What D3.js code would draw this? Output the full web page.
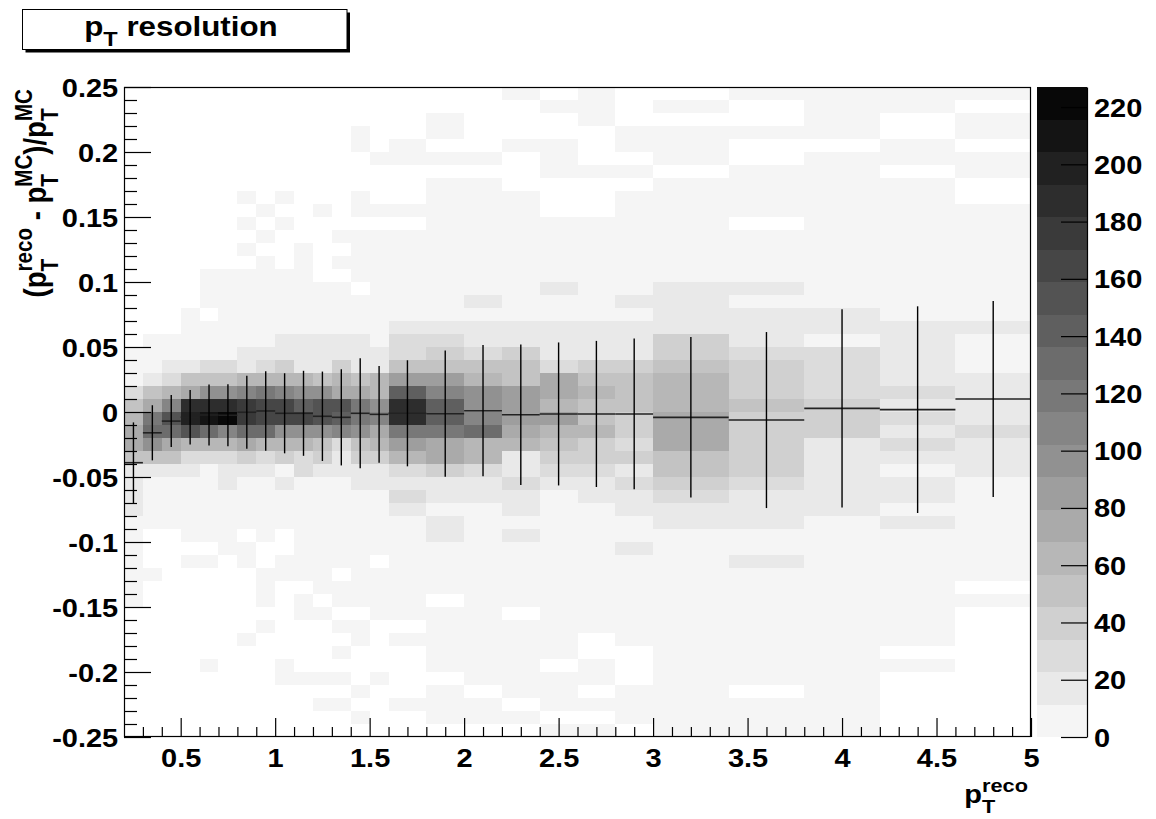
<!DOCTYPE html>
<html><head><meta charset="utf-8">
<script src="https://cdnjs.cloudflare.com/ajax/libs/d3/7.8.5/d3.min.js"></script>
<style>
body{margin:0;background:#fff}
svg text{font-family:"Liberation Sans",Arial,Helvetica,sans-serif;font-weight:bold;fill:#000}
</style></head><body>
<svg id="c" width="1156" height="819"></svg>
<script>
// ---- data ----
const xEdges = [0.2,0.3,0.4,0.5,0.6,0.7,0.8,0.9,1.0,1.1,1.2,1.3,1.4,1.5,1.6,1.8,2.0,2.2,2.4,2.6,2.8,3.0,3.4,3.8,4.2,4.6,5.0];
const yEdges = [-0.25,-0.24,-0.23,-0.22,-0.21,-0.2,-0.19,-0.18,-0.17,-0.16,-0.15,-0.14,-0.13,-0.12,-0.11,-0.1,-0.09,-0.08,-0.07,-0.06,-0.05,-0.04,-0.03,-0.02,-0.01,0,
  0.01,0.02,0.03,0.04,0.05,0.06,0.07,0.08,0.09,0.1,0.11,0.12,0.13,0.14,0.15,0.16,0.17,0.18,0.19,0.2,0.21,0.22,0.23,0.24,0.25];
// bin contents, one row per y bin, from y=-0.25 (first) upward; one entry per x bin
const counts = [
[0,0,0,0,0,0,0,0,0,0,0,0,0,0,0,0,0,0,3,3,0,3,3,3,0,0],
[0,0,0,0,0,0,0,0,0,0,0,0,3,0,0,3,3,3,0,0,3,3,3,3,0,0],
[0,0,0,0,0,0,0,0,0,0,3,3,0,0,3,3,3,0,3,3,3,3,3,3,0,0],
[0,0,0,0,0,0,0,0,0,0,0,0,3,0,0,3,0,3,3,0,3,3,0,3,0,0],
[0,0,0,0,0,0,0,0,3,3,3,3,0,3,0,0,3,3,3,3,0,3,3,3,0,0],
[0,0,0,0,3,0,0,0,3,0,0,0,0,0,0,3,3,3,0,3,0,3,3,3,3,0],
[0,0,0,0,0,0,0,0,0,0,0,3,0,0,0,3,3,3,3,0,0,3,3,3,0,0],
[0,0,0,0,0,0,3,0,0,0,0,0,3,0,3,3,3,3,3,0,3,3,3,3,3,0],
[0,0,0,0,0,0,0,3,0,0,0,3,3,0,0,3,3,3,3,3,3,3,3,3,3,0],
[0,0,0,0,0,0,0,0,0,3,3,0,0,3,3,3,3,0,3,3,3,3,3,3,3,0],
[3,0,0,0,0,0,0,3,0,3,0,3,3,3,3,0,3,3,3,3,3,3,3,3,3,3],
[3,0,0,0,0,0,0,3,0,0,3,3,3,3,3,3,3,3,3,3,3,3,3,3,3,0],
[3,3,0,0,0,0,0,3,3,3,3,0,3,3,3,3,3,3,3,3,3,3,3,3,3,3],
[3,0,0,3,3,0,3,0,3,3,3,3,3,0,3,3,3,3,3,3,3,3,17,3,3,3],
[3,0,0,0,0,3,3,0,0,3,3,3,3,3,3,3,3,3,3,3,17,3,3,3,3,3],
[3,0,0,3,3,3,0,3,0,3,3,3,3,3,3,17,3,17,3,3,3,3,3,3,3,3],
[3,3,3,3,3,3,3,3,3,3,3,3,3,3,3,17,3,3,3,3,3,17,17,3,17,3],
[17,3,3,3,3,3,3,3,3,3,3,3,3,3,17,3,3,17,3,3,17,17,17,17,3,3],
[17,3,3,3,3,3,3,3,3,3,3,3,3,3,28,17,17,17,3,17,17,28,17,17,17,3],
[17,3,3,3,3,17,3,3,17,3,3,3,17,17,17,17,17,28,17,17,28,40,28,17,17,3],
[17,17,17,17,3,17,17,17,3,28,17,17,17,17,28,40,28,17,28,28,17,51,40,17,3,17],
[51,51,51,28,28,28,40,28,40,28,40,17,40,40,62,74,62,17,40,40,40,51,40,17,17,17],
[74,96,74,62,62,62,74,62,62,62,51,28,51,62,85,74,62,62,51,40,28,74,40,17,28,17],
[74,130,130,153,130,108,130,130,96,96,96,108,96,74,119,119,130,74,62,62,40,74,40,40,17,28],
[62,119,153,198,210,227,176,164,164,164,153,142,119,108,187,142,108,85,85,51,40,74,40,40,28,17],
[51,74,108,187,187,187,176,164,164,142,153,153,119,96,187,142,96,85,62,51,51,62,51,40,17,17],
[28,51,62,74,96,96,108,119,108,96,96,74,74,62,142,108,96,85,74,62,51,62,40,28,28,17],
[3,17,28,51,51,51,62,62,62,62,51,62,51,62,85,85,62,51,74,51,51,62,40,28,17,17],
[3,3,17,17,28,28,17,28,40,17,17,40,17,17,51,51,51,51,28,40,40,51,40,28,17,3],
[3,3,3,3,3,3,17,17,17,17,17,17,17,17,28,40,28,40,17,17,17,40,28,28,17,3],
[0,3,3,3,3,3,3,3,17,17,17,17,17,3,28,28,17,17,17,17,17,40,17,3,17,3],
[0,0,0,3,3,3,3,3,3,3,3,3,3,3,17,17,17,17,17,17,17,17,17,17,17,17],
[0,0,0,3,0,3,3,3,3,3,3,3,3,3,3,3,3,3,3,3,3,17,17,17,3,3],
[0,0,0,0,3,3,3,3,3,3,3,3,3,3,3,3,17,3,3,3,17,17,3,3,3,3],
[0,0,0,0,3,3,3,3,3,3,3,3,0,3,3,3,3,3,17,3,3,17,17,3,3,3],
[0,0,0,0,3,3,3,3,3,3,0,0,3,3,3,3,3,3,3,3,3,3,3,3,3,3],
[0,0,0,0,0,0,0,3,0,3,0,3,3,3,3,3,3,3,3,3,3,3,3,3,3,3],
[0,0,0,0,0,0,3,0,0,3,0,0,3,3,3,3,3,3,3,3,3,3,3,3,3,3],
[0,0,0,0,0,0,0,3,0,0,0,3,3,3,3,3,3,3,3,3,3,3,3,3,3,3],
[0,0,0,0,0,0,3,0,3,0,0,0,0,0,0,3,3,3,3,3,3,3,0,3,3,3],
[0,0,0,0,0,0,0,3,0,0,3,0,3,3,3,3,3,3,0,0,3,3,3,3,3,3],
[0,0,0,0,0,0,3,0,3,0,0,0,3,0,0,3,3,3,0,0,3,3,3,3,3,0],
[0,0,0,0,0,0,0,0,0,0,0,0,0,0,0,3,3,0,0,0,0,3,3,3,3,0],
[0,0,0,0,0,0,0,0,0,0,0,0,0,0,0,0,0,0,3,3,3,0,3,3,0,3],
[0,0,0,0,0,0,0,0,0,0,0,0,0,3,3,3,3,0,3,0,0,3,0,3,3,3],
[0,0,0,0,0,0,0,0,0,0,0,0,3,0,3,0,0,3,3,0,3,3,0,0,3,0],
[0,0,0,0,0,0,0,0,0,0,0,0,3,0,0,3,0,0,0,0,3,3,3,3,0,3],
[0,0,0,0,0,0,0,0,0,0,0,0,0,0,0,3,0,0,0,3,0,0,0,3,0,3],
[0,0,0,0,0,0,0,0,0,0,0,0,0,0,0,0,0,0,3,3,0,3,0,3,3,0],
[0,0,0,0,0,0,0,0,0,0,0,0,0,0,0,0,0,3,0,3,0,0,3,3,3,3]
];
// profile (mean and spread) per x bin
const profMean = [-0.039,-0.016,-0.007,-0.004,-0.0023,-0.0025,-0.0002,0.0008,-0.001,-0.001,-0.0033,-0.0041,-0.001,-0.0018,-0.001,-0.0013,0.001,-0.0021,-0.0015,-0.0015,-0.0015,-0.0041,-0.0062,0.0028,0.0018,0.0100];
const profSpread = [0.031,0.0212,0.020,0.021,0.0235,0.0238,0.028,0.0306,0.0308,0.0327,0.0344,0.037,0.0423,0.0372,0.0408,0.0486,0.0505,0.054,0.055,0.0562,0.058,0.0617,0.0677,0.0762,0.0795,0.0754];
const xTickValues = [0.5,1,1.5,2,2.5,3,3.5,4,4.5,5];
const xTickLabels = ["0.5","1","1.5","2","2.5","3","3.5","4","4.5","5"];
const xMinorTicks = [0.3,0.4,0.6,0.7,0.8,0.9,1.1,1.2,1.3,1.4,1.6,1.7,1.8,1.9,2.1,2.2,2.3,2.4,2.6,2.7,2.8,2.9,3.1,3.2,3.3,3.4,3.6,3.7,3.8,3.9,4.1,4.2,4.3,4.4,4.6,4.7,4.8,4.9];
const yTickValues = [-0.25,-0.2,-0.15,-0.1,-0.05,0,0.05,0.1,0.15,0.2,0.25];
const yTickLabels = ["-0.25","-0.2","-0.15","-0.1","-0.05","0","0.05","0.1","0.15","0.2","0.25"];
const zTickValues = [0,20,40,60,80,100,120,140,160,180,200,220];
const palette = ["#f5f5f5","#e9e9e9","#dcdcdc","#d0d0d0","#c3c3c3","#b7b7b7","#aaaaaa","#9e9e9e","#919191","#858585",
                 "#787878","#6c6c6c","#5f5f5f","#535353","#464646","#3a3a3a","#2d2d2d","#212121","#141414","#080808"];

// ---- layout ----
const SX = 1.16;              // horizontal stretch of the glyphs
const L = 124, R = 1031, T = 87, B = 737;
const CBL = 1037, CBR = 1087;
const svg = d3.select("#c");

const x = d3.scaleLinear().domain([0.2, 5]).range([L, R]);
const y = d3.scaleLinear().domain([-0.25, 0.25]).range([B, T]);
const zMax = d3.max(counts.flat());
const color = d3.scaleQuantize().domain([0, zMax]).range(palette);
const z = d3.scaleLinear().domain([0, zMax]).range([B, T]);

// cells
const cells = [];
counts.forEach((row, r) => row.forEach((v, c) => { if (v > 0) cells.push({r, c, v}); }));
svg.append("g").attr("shape-rendering", "crispEdges")
  .selectAll("rect").data(cells).join("rect")
  .attr("x", d => x(xEdges[d.c]))
  .attr("width", d => x(xEdges[d.c + 1]) - x(xEdges[d.c]))
  .attr("y", d => y(yEdges[d.r + 1]))
  .attr("height", d => y(yEdges[d.r]) - y(yEdges[d.r + 1]))
  .attr("fill", d => color(d.v));

// profile
const prof = svg.append("g").attr("stroke", "#000");
profMean.forEach((m, i) => {
  prof.append("line").attr("x1", x(xEdges[i])).attr("x2", x(xEdges[i + 1]))
    .attr("y1", y(m)).attr("y2", y(m)).attr("stroke-width", 1.6).attr("stroke", "#222");
  const cx = (x(xEdges[i]) + x(xEdges[i + 1])) / 2;
  prof.append("line").attr("x1", cx).attr("x2", cx)
    .attr("y1", y(m - profSpread[i])).attr("y2", y(m + profSpread[i])).attr("stroke-width", 1.4);
});

// frame
svg.append("rect").attr("x", L + 0.5).attr("y", T + 0.5).attr("width", R - L - 1).attr("height", B - T - 1)
  .attr("fill", "none").attr("stroke", "#000").attr("stroke-width", 1.2);

function stretchText(sel) {
  sel.selectAll("text").attr("transform", `scale(${SX},1)`);
}

// y axis
const yMinor = yEdges.filter(v => !yTickValues.some(t => Math.abs(t - v) < 1e-9));
svg.append("g").attr("transform", `translate(${L},0)`)
  .call(d3.axisLeft(y).tickValues(yMinor).tickSize(-13).tickSizeOuter(0).tickFormat(""))
  .call(g => g.select(".domain").remove());
const yAx = svg.append("g").attr("transform", `translate(${L},0)`)
  .call(d3.axisLeft(y).tickValues(yTickValues).tickSize(-27).tickSizeOuter(0).tickPadding(5)
    .tickFormat((d, i) => yTickLabels[i]))
  .call(g => g.select(".domain").remove());
yAx.selectAll("text").style("font-size", "25px").style("font-family", null).attr("dy", "0.36em");
stretchText(yAx);

// x axis
svg.append("g").attr("transform", `translate(0,${B})`)
  .call(d3.axisBottom(x).tickValues(xMinorTicks).tickSize(-10).tickSizeOuter(0).tickFormat(""))
  .call(g => g.select(".domain").remove());
const xAx = svg.append("g").attr("transform", `translate(0,${B})`)
  .call(d3.axisBottom(x).tickValues(xTickValues).tickSize(-19).tickSizeOuter(0).tickPadding(12)
    .tickFormat((d, i) => xTickLabels[i]))
  .call(g => g.select(".domain").remove());
xAx.selectAll("text").style("font-size", "25px").style("font-family", null);
stretchText(xAx);
svg.selectAll(".tick line").attr("stroke", "#000").attr("stroke-width", 1.2);

// colour bar
const levels = d3.range(palette.length);
svg.append("g").attr("shape-rendering", "crispEdges").selectAll("rect").data(levels).join("rect")
  .attr("x", CBL).attr("width", CBR - CBL)
  .attr("y", k => z((k + 1) * zMax / palette.length))
  .attr("height", k => z(k * zMax / palette.length) - z((k + 1) * zMax / palette.length))
  .attr("fill", k => palette[k]);
const zAx = svg.append("g").attr("transform", `translate(${CBR},0)`)
  .call(d3.axisRight(z).tickValues(zTickValues).tickSize(-26).tickSizeOuter(0).tickPadding(6));
zAx.select(".domain").attr("stroke", "#000").attr("stroke-width", 1.2);
zAx.selectAll(".tick line").attr("stroke", "#000").attr("stroke-width", 1.2);
zAx.selectAll("text").style("font-size", "25px").style("font-family", null).attr("dy", "0.36em");
stretchText(zAx);

// latex-like text helper
function latex(g, tokens, fs, sr) {
  let cx = 0;
  const sfs = fs * sr;
  tokens.forEach(tk => {
    if (tk.t !== undefined) {
      const t = g.append("text").attr("x", cx).attr("y", 0).style("font-size", fs + "px").text(tk.t);
      cx += t.node().getComputedTextLength();
    } else {
      let w = 0;
      if (tk.sub) {
        const t = g.append("text").attr("x", cx).attr("y", fs * 0.38).style("font-size", sfs + "px").text(tk.sub);
        w = Math.max(w, t.node().getComputedTextLength());
      }
      if (tk.sup) {
        const t = g.append("text").attr("x", cx).attr("y", -fs * 0.44).style("font-size", sfs + "px").text(tk.sup);
        w = Math.max(w, t.node().getComputedTextLength());
      }
      cx += w;
    }
  });
  return cx;
}

// title box
svg.append("rect").attr("x", 25.5).attr("y", 12.5).attr("width", 324.5).attr("height", 40).attr("fill", "#000");
svg.append("rect").attr("x", 22.5).attr("y", 9.5).attr("width", 324.5).attr("height", 40)
  .attr("fill", "#fff").attr("stroke", "#000").attr("stroke-width", 1);
const tg = svg.append("g");
const tw = latex(tg, [{t: "p"}, {sub: "T"}, {t: "\u00A0resolution"}], 27, 0.75);
tg.attr("transform", `translate(${181 - tw * SX / 2},36) scale(${SX},1)`);

// y title
const yg = svg.append("g");
const yw = latex(yg, [{t: "(p"}, {sub: "T", sup: "reco"}, {t: "\u00A0-\u00A0p"}, {sub: "T", sup: "MC"},
  {t: ")/p"}, {sub: "T", sup: "MC"}], 27.5, 0.75);
yg.attr("transform", `translate(46,${89 + yw}) scale(${SX},1) rotate(-90)`);

// x title
const xg = svg.append("g");
const xw = latex(xg, [{t: "p"}, {sub: "T", sup: "reco"}], 25, 0.75);
xg.attr("transform", `translate(${1028 - xw * SX},803) scale(${SX},1)`);
</script>
</body></html>
